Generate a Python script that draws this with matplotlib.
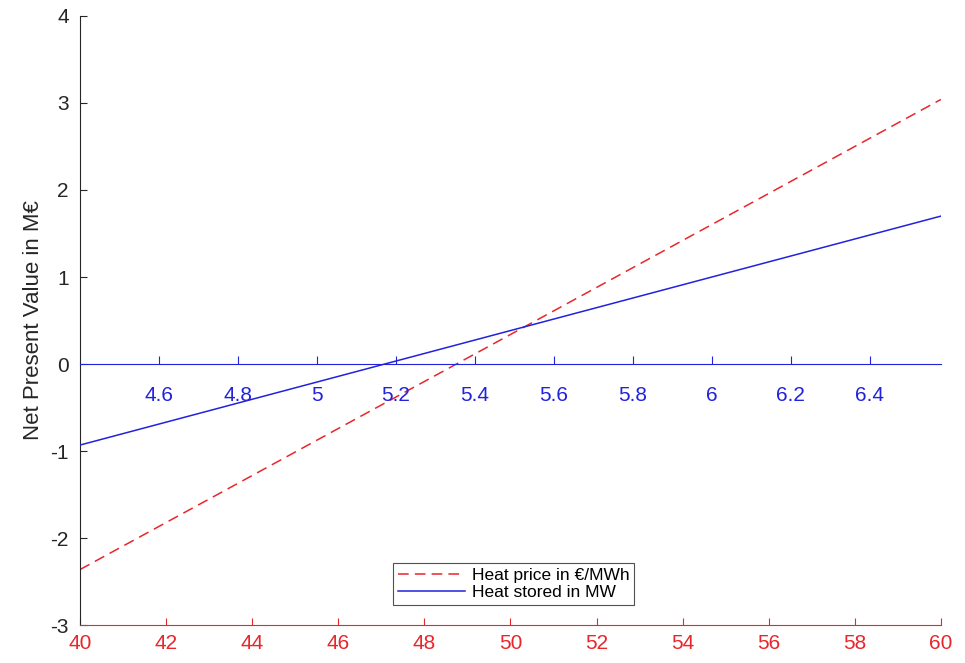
import matplotlib.pyplot as plt
import numpy as np

plt.rcParams['font.family'] = ['Liberation Sans', 'DejaVu Sans']
plt.rcParams['axes.unicode_minus'] = False

# red series: heat price in EUR/MWh vs NPV in MEUR
price = [40, 60]
npv_price = [-2.36, 3.04]

# blue series: heat stored in MW vs NPV in MEUR
stored = [4.4, 6.58]
npv_stored = [-0.93, 1.70]

price_ticks = np.arange(40, 61, 2)
stored_ticks = [4.6, 4.8, 5.0, 5.2, 5.4, 5.6, 5.8, 6.0, 6.2, 6.4]
stored_labels = ['4.6', '4.8', '5', '5.2', '5.4', '5.6', '5.8', '6', '6.2', '6.4']
npv_ticks = np.arange(-3, 5, 1)

red = '#e8262b'
blue = '#2222dd'

fig = plt.figure(figsize=(9.65, 6.63), dpi=100)
ax = fig.add_axes([0.083, 0.057, 0.892, 0.919])

l1, = ax.plot(price, npv_price, '--', color=red, lw=1.1, dashes=(7, 4),
              label='Heat price in €/MWh')
ax.set_xlim(40, 60)
ax.set_ylim(-3, 4)
ax.set_xticks(price_ticks)
ax.set_yticks(npv_ticks)
ax.spines['top'].set_visible(False)
ax.spines['right'].set_visible(False)
ax.spines['bottom'].set_color(red)
ax.spines['left'].set_color('#262626')
ax.tick_params(axis='x', colors=red, direction='in', length=5, labelsize=15, pad=6)
ax.tick_params(axis='y', colors='#262626', direction='in', length=5, labelsize=15, pad=8)
ax.set_ylabel('Net Present Value in M€', fontsize=16, color='#262626', labelpad=5)

ax2 = ax.twiny()
l2, = ax2.plot(stored, npv_stored, '-', color=blue, lw=1.1, label='Heat stored in MW')
ax2.set_xlim(stored[0], stored[1])
ax2.set_xticks(stored_ticks)
ax2.set_xticklabels(stored_labels)
ax2.xaxis.set_ticks_position('bottom')
ax2.xaxis.set_label_position('bottom')
ax2.spines['bottom'].set_position(('data', 0))
ax2.spines['bottom'].set_color(blue)
for s in ['top', 'right', 'left']:
    ax2.spines[s].set_visible(False)
ax2.tick_params(axis='x', colors=blue, direction='in', length=6, labelsize=15, pad=16)

leg = ax.legend(handles=[l1, l2], loc='lower center', bbox_to_anchor=(0.5035, 0.033),
                fontsize=12.5, frameon=True, fancybox=False, handlelength=3.85,
                handletextpad=0.4, borderpad=0.3, labelspacing=0.1,
                borderaxespad=0.0)
leg.get_frame().set_edgecolor('#262626')
leg.get_frame().set_linewidth(0.8)

fig.savefig('out.png', dpi=100)
